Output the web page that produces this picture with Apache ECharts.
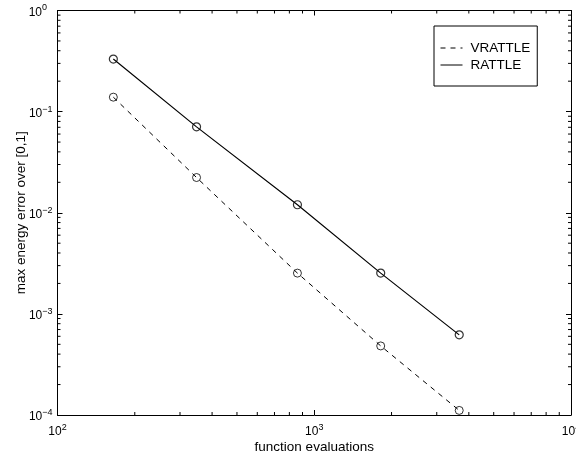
<!DOCTYPE html>
<html><head><meta charset="utf-8">
<script src="https://cdn.jsdelivr.net/npm/echarts@6/dist/echarts.min.js"></script>
<style>html,body{margin:0;padding:0;background:#fff}#c{width:576px;height:458px}</style>
</head><body><div id="c"></div>
<script>
// data
const evaluations = [165, 348, 860, 1815, 3670];
const vrattle = [0.139, 0.0223, 0.00253, 0.000482, 0.000111];
const rattle = [0.331, 0.0707, 0.0120, 0.00253, 0.00062];
const seriesNames = ['VRATTLE', 'RATTLE'];
const xRange = [100, 10000];
const yRange = [1e-4, 1];
const xTitle = 'function evaluations';
const yTitle = 'max energy error over [0,1]';

const FONT = '"Liberation Sans", Arial, Helvetica, sans-serif';

function minorValues(lo, hi) {
  const out = [];
  for (let d = lo; d < hi; d *= 10) {
    for (let k = 2; k <= 9; k++) out.push(+(k * d).toPrecision(6));
  }
  return out;
}
const xMinor = minorValues(xRange[0], xRange[1]);
const yMinor = minorValues(yRange[0], yRange[1]);

function expLabelX(v) {
  const e = Math.round(Math.log10(v));
  return '{b|10}{e|' + String(e).replace('-', '\u2212') + '}';
}
function expLabelY(v) {
  const e = Math.round(Math.log10(v));
  const tok = e < 0 ? 'e' : 'p';
  return '{b|10}{' + tok + '|' + String(e).replace('-', '\u2212') + '}';
}
const richX = {
  b: { fontSize: 12, lineHeight: 14, fontFamily: FONT, color: '#000', padding: [6, 0, 2, 0] },
  e: { fontSize: 9, lineHeight: 11, fontFamily: FONT, color: '#000', verticalAlign: 'top' }
};
const richY = {
  b: { fontSize: 12, lineHeight: 14, fontFamily: FONT, color: '#000', padding: [6, 0, 2, 0] },
  e: { fontSize: 9, lineHeight: 11, fontFamily: FONT, color: '#000', verticalAlign: 'top' },
  p: { fontSize: 9, lineHeight: 11, fontFamily: FONT, color: '#000', verticalAlign: 'top', padding: [0, 5.5, 0, 0] }
};

const axisCommon = {
  type: 'log', logBase: 10,
  axisLine: { show: true, onZero: false, lineStyle: { color: '#000', width: 1 } },
  axisTick: { show: true, inside: true, length: 5, lineStyle: { color: '#000' } },
  splitLine: { show: false },
  minorTick: { show: false }
};

const chart = echarts.init(document.getElementById('c'), null, { renderer: 'canvas' });

const tickLen = 3;
function minorTickRender(isX) {
  return function (params, api) {
    const v = api.value(isX ? 0 : 1);
    const children = [];
    if (isX) {
      const a = api.coord([v, yRange[0]]);
      const b = api.coord([v, yRange[1]]);
      children.push({ type: 'line', shape: { x1: a[0], y1: a[1], x2: a[0], y2: a[1] - tickLen }, style: { stroke: '#000', lineWidth: 1 } });
      children.push({ type: 'line', shape: { x1: b[0], y1: b[1], x2: b[0], y2: b[1] + tickLen }, style: { stroke: '#000', lineWidth: 1 } });
    } else {
      const a = api.coord([xRange[0], v]);
      const b = api.coord([xRange[1], v]);
      children.push({ type: 'line', shape: { x1: a[0], y1: a[1], x2: a[0] + tickLen, y2: a[1] }, style: { stroke: '#000', lineWidth: 1 } });
      children.push({ type: 'line', shape: { x1: b[0], y1: b[1], x2: b[0] - tickLen, y2: b[1] }, style: { stroke: '#000', lineWidth: 1 } });
    }
    return { type: 'group', children: children };
  };
}

chart.setOption({
  animation: false,
  backgroundColor: '#fff',
  grid: { left: 57.5, right: 5, top: 10.5, bottom: 43, containLabel: false, outerBoundsMode: 'none' },
  legend: {
    data: seriesNames,
    orient: 'vertical',
    left: 434, top: 26,
    padding: [15, 7, 14, 6],
    itemWidth: 22, itemHeight: 14, itemGap: 3,
    borderColor: '#000', borderWidth: 1, backgroundColor: '#fff',
    itemStyle: { opacity: 0 },
    lineStyle: { width: 1 },
    textStyle: { fontSize: 13.5, fontFamily: FONT, color: '#000', padding: [0, 0, 0, 3] }
  },
  xAxis: [
    Object.assign({}, axisCommon, {
      position: 'bottom', min: xRange[0], max: xRange[1],
      name: xTitle, nameLocation: 'middle', nameGap: 25, nameMoveOverlap: false,
      nameTextStyle: { fontSize: 13.5, fontFamily: FONT, color: '#000' },
      axisLabel: { show: true, margin: 8, formatter: expLabelX, rich: richX, showMaxLabel: true, showMinLabel: true }
    }),
    Object.assign({}, axisCommon, {
      position: 'top', min: xRange[0], max: xRange[1],
      axisLabel: { show: false }
    })
  ],
  yAxis: [
    Object.assign({}, axisCommon, {
      position: 'left', min: yRange[0], max: yRange[1],
      name: yTitle, nameLocation: 'middle', nameGap: 29, nameMoveOverlap: false,
      nameTextStyle: { fontSize: 13.5, fontFamily: FONT, color: '#000' },
      axisLabel: { show: true, margin: 5, formatter: expLabelY, rich: richY, showMaxLabel: true, showMinLabel: true }
    }),
    Object.assign({}, axisCommon, {
      position: 'right', min: yRange[0], max: yRange[1],
      axisLabel: { show: false }
    })
  ],
  series: [
    {
      name: seriesNames[0], type: 'line', xAxisIndex: 0, yAxisIndex: 0,
      data: evaluations.map((x, i) => [x, vrattle[i]]),
      symbol: 'none', lineStyle: { color: '#000', width: 1, type: [5, 5] }, itemStyle: { color: '#000' }
    },
    {
      name: seriesNames[1], type: 'line', xAxisIndex: 0, yAxisIndex: 0,
      data: evaluations.map((x, i) => [x, rattle[i]]),
      symbol: 'none', lineStyle: { color: '#000', width: 1.2, type: 'solid' }, itemStyle: { color: '#000' }
    },
    {
      name: 'VRATTLE markers', type: 'scatter', xAxisIndex: 0, yAxisIndex: 0,
      data: evaluations.map((x, i) => [x, vrattle[i]]),
      symbol: 'circle', symbolSize: 8,
      itemStyle: { color: 'rgba(0,0,0,0)', borderColor: '#000', borderWidth: 1 }
    },
    {
      name: 'RATTLE markers', type: 'scatter', xAxisIndex: 0, yAxisIndex: 0,
      data: evaluations.map((x, i) => [x, rattle[i]]),
      symbol: 'circle', symbolSize: 8,
      itemStyle: { color: 'rgba(0,0,0,0)', borderColor: '#000', borderWidth: 1.2 }
    },
    {
      name: 'xminor', type: 'custom', xAxisIndex: 0, yAxisIndex: 0, clip: false, silent: true,
      data: xMinor.map(v => [v, yRange[0]]),
      renderItem: minorTickRender(true)
    },
    {
      name: 'yminor', type: 'custom', xAxisIndex: 0, yAxisIndex: 0, clip: false, silent: true,
      data: yMinor.map(v => [xRange[0], v]),
      renderItem: minorTickRender(false)
    }
  ]
});
</script>
</body></html>
